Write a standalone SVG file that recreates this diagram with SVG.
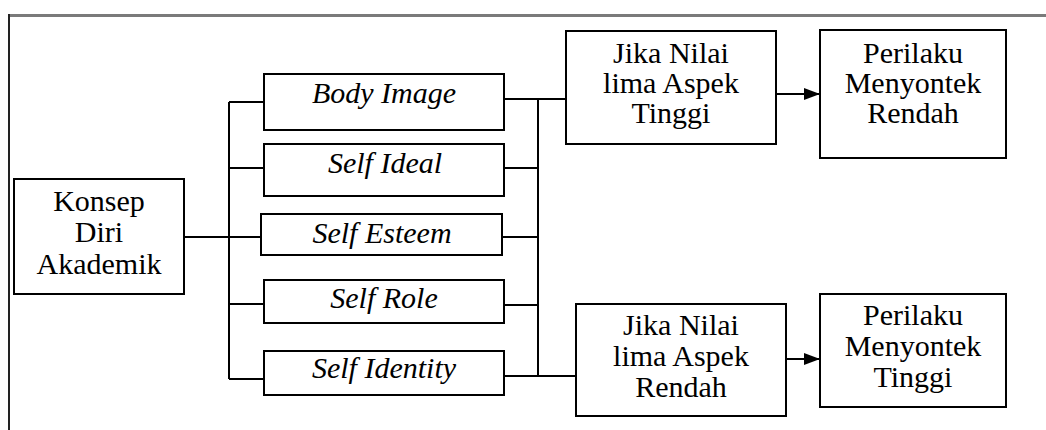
<svg xmlns="http://www.w3.org/2000/svg" width="1046" height="430" viewBox="0 0 1046 430">
<style>
.box{fill:#fff;stroke:#000;stroke-width:2}
.ln{fill:none;stroke:#000;stroke-width:2}
text{font-family:"Liberation Serif",serif !important;font-size:30px;text-anchor:middle;fill:#000}
.it{font-style:italic}
</style>
<defs>
<marker id="arr" markerWidth="16" markerHeight="12" refX="16" refY="6" orient="auto" markerUnits="userSpaceOnUse">
<path d="M0,0 L16,6 L0,12 Z" fill="#000"/>
</marker>
</defs>
<rect width="1046" height="430" fill="#fff"/>
<g id="frame">
<line x1="8" y1="15.5" x2="1046" y2="15.5" stroke="#7a7a7a" stroke-width="3"/>
<line x1="9" y1="14" x2="9" y2="430" stroke="#222" stroke-width="2"/>
</g>
<g id="connectors">
<path class="ln" d="M184,237 H229 M229,102 V379 M229,102 H264 M229,168 H264 M229,237 H261 M229,304 H264 M229,379 H264"/>
<path class="ln" d="M538,99 V376 M504,99 H565 M504,168 H538 M502,237 H538 M504,305 H538 M504,376 H576"/>
<line class="ln" x1="776" y1="94" x2="820" y2="94" marker-end="url(#arr)"/>
<line class="ln" x1="786" y1="359" x2="820" y2="359" marker-end="url(#arr)"/>
</g>
<g id="konsep">
<rect class="box" x="14" y="179" width="170" height="115"/>
<text x="99" y="211" style="font-family:'Liberation Serif',serif">Konsep</text>
<text x="99" y="242" style="font-family:'Liberation Serif',serif">Diri</text>
<text x="99" y="274" style="font-family:'Liberation Serif',serif">Akademik</text>
</g>
<g id="body-image">
<rect class="box" x="264" y="74" width="240" height="56"/>
<text class="it" x="384" y="103" style="font-family:'Liberation Serif',serif">Body Image</text>
</g>
<g id="self-ideal">
<rect class="box" x="264" y="144" width="240" height="52"/>
<text class="it" x="385" y="173" style="font-family:'Liberation Serif',serif">Self Ideal</text>
</g>
<g id="self-esteem">
<rect class="box" x="261" y="214" width="241" height="41"/>
<text class="it" x="382" y="243" style="font-family:'Liberation Serif',serif">Self Esteem</text>
</g>
<g id="self-role">
<rect class="box" x="264" y="280" width="240" height="43"/>
<text class="it" x="384" y="308" style="font-family:'Liberation Serif',serif">Self Role</text>
</g>
<g id="self-identity">
<rect class="box" x="264" y="351" width="240" height="44"/>
<text class="it" x="384" y="378" style="font-family:'Liberation Serif',serif">Self Identity</text>
</g>
<g id="jika-tinggi">
<rect class="box" x="566" y="31" width="210" height="113"/>
<text x="671" y="63" style="font-family:'Liberation Serif',serif">Jika Nilai</text>
<text x="671" y="93" style="font-family:'Liberation Serif',serif">lima Aspek</text>
<text x="671" y="123" style="font-family:'Liberation Serif',serif">Tinggi</text>
</g>
<g id="perilaku-rendah">
<rect class="box" x="820" y="30" width="186" height="128"/>
<text x="913" y="63" style="font-family:'Liberation Serif',serif">Perilaku</text>
<text x="913" y="93" style="font-family:'Liberation Serif',serif">Menyontek</text>
<text x="913" y="123" style="font-family:'Liberation Serif',serif">Rendah</text>
</g>
<g id="jika-rendah">
<rect class="box" x="576" y="304" width="210" height="112"/>
<text x="681" y="335" style="font-family:'Liberation Serif',serif">Jika Nilai</text>
<text x="681" y="366" style="font-family:'Liberation Serif',serif">lima Aspek</text>
<text x="681" y="397" style="font-family:'Liberation Serif',serif">Rendah</text>
</g>
<g id="perilaku-tinggi">
<rect class="box" x="820" y="294" width="186" height="113"/>
<text x="913" y="325" style="font-family:'Liberation Serif',serif">Perilaku</text>
<text x="913" y="356" style="font-family:'Liberation Serif',serif">Menyontek</text>
<text x="913" y="387" style="font-family:'Liberation Serif',serif">Tinggi</text>
</g>
</svg>
